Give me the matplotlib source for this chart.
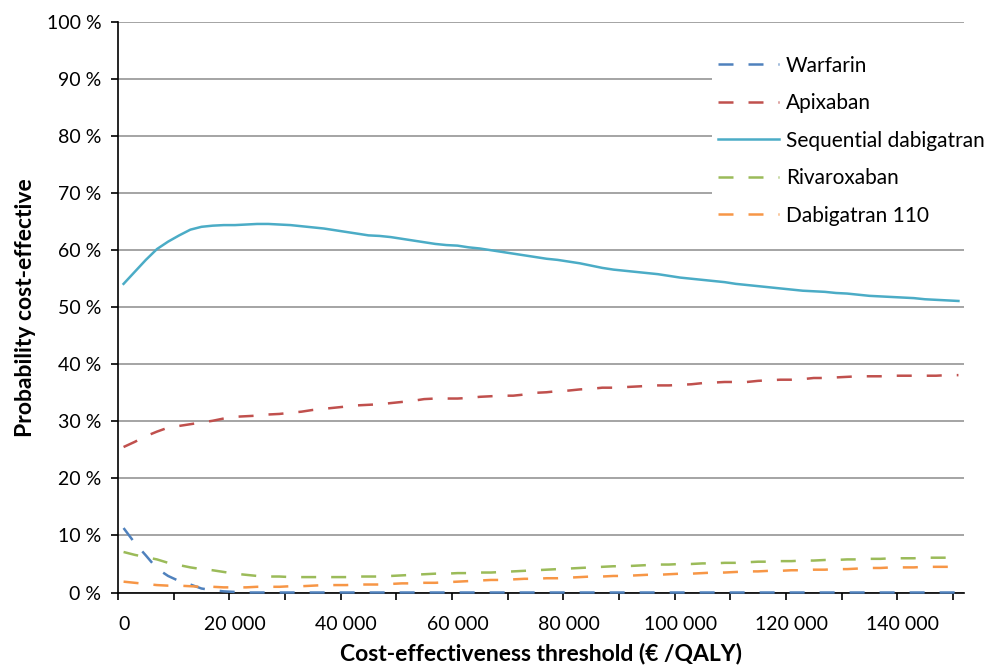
import matplotlib.pyplot as plt
from matplotlib.ticker import FixedLocator, FuncFormatter

# threshold categories (EUR/QALY), one every 2000
thresholds = list(range(0, 150001, 2000))

warfarin = [11.3, 8.7, 6.5, 4.2, 2.9, 2.0, 1.4, 0.7, 0.4, 0.2,
            0.1, 0.0, 0.0, 0.0, 0.0, 0.0, 0.0, 0.0, 0.0, 0.0,
            0.0, 0.0, 0.0, 0.0, 0.0, 0.0, 0.0, 0.0, 0.0, 0.0,
            0.0, 0.0, 0.0, 0.0, 0.0, 0.0, 0.0, 0.0, 0.0, 0.0,
            0.0, 0.0, 0.0, 0.0, 0.0, 0.0, 0.0, 0.0, 0.0, 0.0,
            0.0, 0.0, 0.0, 0.0, 0.0, 0.0, 0.0, 0.0, 0.0, 0.0,
            0.0, 0.0, 0.0, 0.0, 0.0, 0.0, 0.0, 0.0, 0.0, 0.0,
            0.0, 0.0, 0.0, 0.0, 0.0, 0.0]

apixaban = [25.5, 26.4, 27.4, 28.2, 28.9, 29.2, 29.5, 29.8, 30.1, 30.5,
            30.8, 30.9, 31.0, 31.2, 31.3, 31.5, 31.7, 32.0, 32.2, 32.4,
            32.6, 32.8, 32.9, 33.0, 33.2, 33.4, 33.6, 33.9, 34.0, 34.0,
            34.0, 34.1, 34.3, 34.4, 34.5, 34.5, 34.7, 35.0, 35.1, 35.3,
            35.4, 35.6, 35.7, 35.9, 35.9, 36.0, 36.1, 36.2, 36.3, 36.3,
            36.4, 36.5, 36.7, 36.8, 36.9, 36.9, 36.9, 37.1, 37.2, 37.3,
            37.3, 37.4, 37.6, 37.6, 37.7, 37.8, 37.9, 37.9, 37.9, 38.0,
            38.0, 38.0, 38.0, 38.0, 38.1, 38.1]

sequential = [54.1, 56.2, 58.3, 60.2, 61.5, 62.6, 63.6, 64.1, 64.3, 64.4,
              64.4, 64.5, 64.6, 64.6, 64.5, 64.4, 64.2, 64.0, 63.8, 63.5,
              63.2, 62.9, 62.6, 62.5, 62.3, 62.0, 61.7, 61.4, 61.1, 60.9,
              60.8, 60.5, 60.3, 60.0, 59.7, 59.4, 59.1, 58.8, 58.5, 58.3,
              58.0, 57.7, 57.3, 56.9, 56.6, 56.4, 56.2, 56.0, 55.8, 55.5,
              55.2, 55.0, 54.8, 54.6, 54.4, 54.1, 53.9, 53.7, 53.5, 53.3,
              53.1, 52.9, 52.8, 52.7, 52.5, 52.4, 52.2, 52.0, 51.9, 51.8,
              51.7, 51.6, 51.4, 51.3, 51.2, 51.1]

rivaroxaban = [7.1, 6.6, 6.2, 5.8, 5.2, 4.8, 4.4, 4.1, 3.9, 3.6,
               3.3, 3.1, 2.9, 2.8, 2.8, 2.7, 2.7, 2.7, 2.7, 2.7,
               2.7, 2.8, 2.8, 2.8, 2.9, 3.0, 3.1, 3.2, 3.3, 3.3,
               3.4, 3.4, 3.5, 3.5, 3.6, 3.7, 3.8, 3.9, 4.0, 4.1,
               4.2, 4.3, 4.4, 4.5, 4.6, 4.6, 4.7, 4.8, 4.9, 4.9,
               5.0, 5.0, 5.1, 5.1, 5.2, 5.2, 5.3, 5.4, 5.4, 5.5,
               5.5, 5.6, 5.6, 5.7, 5.7, 5.8, 5.8, 5.9, 5.9, 6.0,
               6.0, 6.0, 6.1, 6.1, 6.1, 6.1]

dabigatran110 = [1.9, 1.7, 1.5, 1.3, 1.2, 1.2, 1.1, 1.0, 1.0, 0.9,
                 0.9, 0.9, 1.0, 1.0, 1.0, 1.1, 1.1, 1.2, 1.3, 1.3,
                 1.3, 1.4, 1.4, 1.4, 1.5, 1.6, 1.6, 1.7, 1.7, 1.8,
                 1.9, 2.0, 2.1, 2.2, 2.2, 2.3, 2.4, 2.4, 2.5, 2.5,
                 2.6, 2.7, 2.8, 2.8, 2.9, 2.9, 3.0, 3.1, 3.1, 3.2,
                 3.3, 3.3, 3.4, 3.5, 3.5, 3.6, 3.7, 3.7, 3.8, 3.8,
                 3.9, 3.9, 4.0, 4.0, 4.1, 4.1, 4.2, 4.3, 4.3, 4.4,
                 4.4, 4.4, 4.5, 4.5, 4.5, 4.5]

labels = ["Warfarin", "Apixaban", "Sequential dabigatran", "Rivaroxaban",
          "Dabigatran 110"]
colors = ["#4F81BD", "#C0504D", "#4BACC6", "#9BBB59", "#F79646"]
dashed = [True, True, False, True, True]

x_labels = [0, 20000, 40000, 60000, 80000, 100000, 120000, 140000]
y_ticks = [0, 10, 20, 30, 40, 50, 60, 70, 80, 90, 100]

plt.rcParams['font.family'] = ['Lato', 'DejaVu Sans']

fig = plt.figure(figsize=(9.87, 6.68), dpi=100)
ax = fig.add_axes([118 / 987, 1 - 592.5 / 668, 846 / 987, 570.5 / 668])

series = [warfarin, apixaban, sequential, rivaroxaban, dabigatran110]
for vals, lab, col, dsh in zip(series, labels, colors, dashed):
    line, = ax.plot(thresholds, vals, color=col, lw=1.8, label=lab,
                    clip_on=False, zorder=3)
    if dsh:
        line.set_dashes((6.0, 6.0))

ax.set_xlim(-1000, 151000)
ax.set_ylim(0, 100)

# category axis: tick marks between categories every 10 000, labels on categories
ax.xaxis.set_major_locator(FixedLocator(x_labels))
ax.xaxis.set_major_formatter(
    FuncFormatter(lambda v, p: f"{int(v):,}".replace(",", " ")))
ax.xaxis.set_minor_locator(FixedLocator(list(range(-1000, 150000, 10000))))
ax.tick_params(axis='x', which='major', length=0, pad=17, labelsize=14)
ax.tick_params(axis='x', which='minor', length=5, width=1.2, direction='out')

ax.set_yticks(y_ticks)
ax.set_yticklabels([f"{t} %" for t in y_ticks])
ax.tick_params(axis='y', length=5, width=1.2, labelsize=14, pad=7)

ax.yaxis.grid(True, color='#8C8C8C', lw=1.1)
ax.set_axisbelow(True)
for s in ['top', 'right']:
    ax.spines[s].set_visible(False)
for s in ['left', 'bottom']:
    ax.spines[s].set_linewidth(1.2)
    ax.spines[s].set_color('black')

ax.set_xlabel("Cost-effectiveness threshold (€ /QALY)", fontsize=16.5,
              fontweight='bold', labelpad=7)
ax.set_ylabel("Probability cost-effective", fontsize=16.5, fontweight='bold',
              labelpad=8)

leg = ax.legend(loc='upper left', bbox_to_anchor=(0.702, 0.952),
                fontsize=15, handlelength=2.9, labelspacing=0.84,
                handletextpad=0.34, borderaxespad=0, borderpad=0.3,
                frameon=True, fancybox=False)
leg.get_frame().set_facecolor('white')
leg.get_frame().set_edgecolor('none')
leg.get_frame().set_alpha(1)
leg.set_zorder(5)

fig.savefig("out.png", dpi=100)
